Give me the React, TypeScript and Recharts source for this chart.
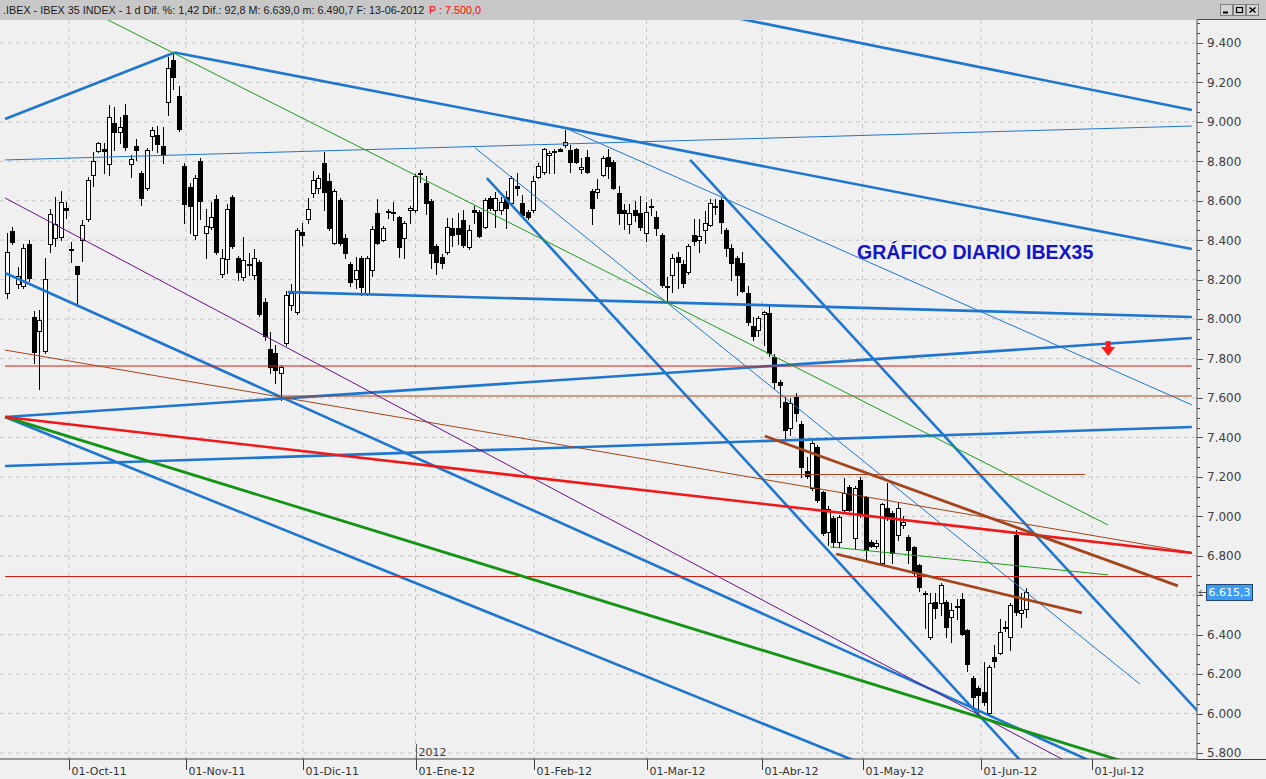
import React from 'react';
import {
    ComposedChart, Bar, XAxis, YAxis, CartesianGrid, ReferenceLine, ReferenceDot
} from 'recharts';

// daily candles, IBEX 35, mid-Sep 2011 -> 13 Jun 2012 (index = trading day)
const opens = [
    8132, 8447, 8178, 8168, 8381, 8011, 7940, 7838, 8381, 8411,
    8416, 8563, 8355, 8269, 8401, 8508, 8731, 8852, 8862, 8786,
    8994, 8949, 9035, 8786, 8878, 8741, 8665, 8928, 8934, 8878,
    9101, 9314, 9131, 8776, 8670, 8426, 8802, 8437, 8467, 8609,
    8229, 8305, 8619, 8310, 8213, 8279, 8224, 8289, 8087, 7848,
    7828, 7727, 7879, 8072, 8036, 8442, 8508, 8639, 8665, 8792,
    8700, 8386, 8604, 8411, 8279, 8203, 8310, 8132, 8249, 8538,
    8401, 8548, 8543, 8518, 8411, 8553, 8553, 8741, 8690, 8599,
    8371, 8315, 8340, 8462, 8462, 8503, 8366, 8553, 8543, 8467,
    8614, 8553, 8553, 8619, 8589, 8675, 8589, 8543, 8553, 8721,
    8746, 8832, 8852, 8862, 8883, 8857, 8862, 8761, 8822, 8650,
    8645, 8731, 8822, 8797, 8640, 8553, 8482, 8553, 8538, 8436,
    8574, 8518, 8427, 8168, 8224, 8315, 8279, 8239, 8427, 8401,
    8452, 8477, 8574, 8604, 8452, 8361, 8310, 8284, 8132, 7965,
    7945, 8026, 8031, 7808, 7681, 7580, 7448, 7605, 7468, 7230,
    7144, 7352, 7123, 6921, 6992, 6870, 7032, 7149, 6890, 7184,
    7098, 6870, 6850, 6763, 7042, 7017, 6905, 6956, 6895, 6845,
    6753, 6612, 6388, 6566, 6561, 6566, 6490, 6545, 6581, 6424,
    6180, 6130, 6109, 6003, 6287, 6307, 6440, 6388, 6905, 6510,
    6530,
];
const highs = [
    8437, 8465, 8264, 8381, 8400, 8041, 8046, 8310, 8558, 8620,
    8650, 8594, 8391, 8269, 8502, 8720, 8847, 8898, 8893, 9086,
    9076, 9025, 9091, 8832, 8913, 8750, 8870, 8974, 8979, 8974,
    9329, 9349, 9182, 8790, 8690, 8730, 8815, 8558, 8594, 8629,
    8355, 8584, 8630, 8320, 8416, 8335, 8355, 8300, 8107, 7934,
    7868, 7767, 8142, 8178, 8462, 8487, 8614, 8750, 8731, 8847,
    8741, 8660, 8615, 8431, 8290, 8315, 8320, 8320, 8470, 8609,
    8470, 8558, 8594, 8525, 8495, 8574, 8735, 8756, 8726, 8610,
    8380, 8330, 8513, 8513, 8538, 8553, 8477, 8574, 8553, 8612,
    8622, 8645, 8620, 8650, 8725, 8741, 8629, 8553, 8726, 8790,
    8870, 8850, 8862, 8867, 8959, 8883, 8870, 8817, 8857, 8660,
    8711, 8825, 8862, 8805, 8675, 8584, 8584, 8599, 8624, 8594,
    8609, 8548, 8435, 8214, 8330, 8340, 8300, 8380, 8508, 8508,
    8548, 8609, 8609, 8614, 8460, 8380, 8318, 8340, 8168, 8011,
    8016, 8040, 8067, 7823, 7691, 7605, 7600, 7626, 7484, 7300,
    7380, 7362, 7130, 7052, 7000, 7007, 7194, 7158, 7152, 7199,
    7105, 6880, 6880, 7070, 7170, 7025, 7072, 7000, 6905, 6852,
    6760, 6622, 6612, 6612, 6660, 6576, 6561, 6581, 6612, 6430,
    6188, 6140, 6261, 6245, 6348, 6480, 6470, 6560, 6930, 6611,
    6639,
];
const lows = [
    8107, 8380, 8158, 8158, 8193, 7777, 7646, 7828, 8340, 8371,
    8401, 8513, 8289, 8067, 8294, 8495, 8675, 8847, 8741, 8731,
    8857, 8893, 8857, 8721, 8807, 8579, 8655, 8857, 8847, 8792,
    9035, 9167, 8955, 8487, 8437, 8406, 8508, 8310, 8457, 8330,
    8213, 8234, 8361, 8198, 8198, 8224, 8203, 8015, 7894, 7727,
    7676, 7590, 7868, 8046, 8026, 8376, 8487, 8620, 8640, 8553,
    8452, 8381, 8375, 8310, 8168, 8158, 8122, 8120, 8219, 8380,
    8395, 8513, 8502, 8315, 8310, 8487, 8545, 8695, 8533, 8259,
    8229, 8260, 8330, 8371, 8381, 8366, 8355, 8487, 8416, 8460,
    8555, 8467, 8533, 8462, 8580, 8629, 8523, 8508, 8545, 8715,
    8738, 8741, 8741, 8852, 8875, 8746, 8790, 8741, 8741, 8482,
    8614, 8725, 8716, 8660, 8482, 8457, 8437, 8497, 8452, 8396,
    8528, 8426, 8165, 8087, 8138, 8160, 8163, 8230, 8376, 8340,
    8386, 8470, 8533, 8436, 8320, 8198, 8122, 8135, 7970, 7894,
    7914, 7870, 7813, 7650, 7554, 7397, 7412, 7483, 7199, 7194,
    7135, 7075, 6905, 6855, 6845, 6845, 7023, 7027, 6840, 6997,
    6779, 6845, 6840, 6753, 6980, 6764, 6880, 6940, 6764, 6705,
    6622, 6434, 6380, 6485, 6500, 6388, 6363, 6480, 6398, 6216,
    6033, 6010, 6043, 5990, 6236, 6300, 6420, 6322, 6500, 6439,
    6491,
];
const closes = [
    8340, 8391, 8219, 8361, 8208, 7833, 7996, 8203, 8533, 8482,
    8594, 8553, 8350, 8229, 8477, 8705, 8802, 8893, 8852, 9025,
    8949, 8974, 8873, 8812, 8857, 8614, 8857, 8959, 8888, 8832,
    9273, 9228, 8964, 8584, 8574, 8716, 8599, 8472, 8518, 8340,
    8310, 8558, 8371, 8239, 8300, 8274, 8310, 8026, 7914, 7757,
    7742, 7757, 8122, 8132, 8452, 8427, 8558, 8705, 8716, 8645,
    8462, 8650, 8386, 8335, 8188, 8249, 8163, 8310, 8457, 8386,
    8462, 8543, 8538, 8366, 8488, 8564, 8726, 8736, 8589, 8335,
    8290, 8284, 8467, 8427, 8432, 8376, 8452, 8543, 8421, 8604,
    8563, 8614, 8594, 8563, 8716, 8665, 8528, 8518, 8700, 8776,
    8862, 8842, 8847, 8852, 8898, 8797, 8797, 8771, 8746, 8563,
    8660, 8817, 8776, 8665, 8538, 8538, 8538, 8528, 8467, 8543,
    8569, 8462, 8173, 8163, 8310, 8290, 8183, 8371, 8396, 8422,
    8488, 8589, 8569, 8492, 8361, 8285, 8224, 8142, 7985, 7914,
    8006, 8036, 7828, 7681, 7666, 7438, 7575, 7524, 7250, 7204,
    7372, 7083, 6915, 7037, 6870, 6997, 7118, 7032, 7144, 7007,
    6829, 6852, 6865, 7062, 6997, 6814, 7042, 6972, 6829, 6713,
    6642, 6607, 6561, 6536, 6652, 6439, 6525, 6540, 6404, 6251,
    6084, 6094, 6059, 6236, 6266, 6414, 6436, 6550, 6515, 6522.5,
    6615.3,
];

// month ticks (trading-day index where the month starts)
const monthTicks = [11.31, 33.12, 54.93, 75.9, 97.99, 118.96, 140.48, 159.22, 181.31, 201.99];
const monthLabels = ['01-Oct-11', '01-Nov-11', '01-Dic-11', '01-Ene-12', '01-Feb-12',
    '01-Mar-12', '01-Abr-12', '01-May-12', '01-Jun-12', '01-Jul-12'];

const majorTicks = [5800, 6000, 6200, 6400, 6600, 6800, 7000, 7200, 7400, 7600,
    7800, 8000, 8200, 8400, 8600, 8800, 9000, 9200, 9400];
const priceTicks = majorTicks.flatMap((v) => (v === 9400 ? [v, v + 50, v + 100] : [v, v + 50, v + 100, v + 150]));

const lastClose = 6615.3;

// hand drawn trend lines: [index, price] -> [index, price]
const trendLines: { kind: string; from: [number, number]; to: [number, number] }[] = [
    { kind: 'blue', from: [-0.6, 9015], to: [31, 9352] },
    { kind: 'blue', from: [31, 9352], to: [220.6, 8355] },
    { kind: 'blue', from: [130, 9558], to: [220.6, 9060] },
    { kind: 'blueThin', from: [-0.6, 8807], to: [220.6, 8979] },
    { kind: 'blue', from: [52.1, 8137], to: [220.6, 8011] },
    { kind: 'blue', from: [-0.6, 7504], to: [220.6, 7904] },
    { kind: 'blue', from: [-0.6, 7255], to: [220.6, 7453] },
    { kind: 'blue', from: [-0.6, 8234], to: [205, 5719] },
    { kind: 'blue', from: [-0.6, 7504], to: [160, 5736] },
    { kind: 'blue', from: [89.2, 8715], to: [190, 5722] },
    { kind: 'blue', from: [127.1, 8807], to: [222, 6003] },
    { kind: 'blueThin', from: [87, 8868], to: [210.9, 6150] },
    { kind: 'blueThin', from: [103.8, 8969], to: [220.6, 7565] },
    { kind: 'redThin', from: [-0.6, 7762], to: [220.6, 7762] },
    { kind: 'redThin', from: [-0.6, 6695], to: [220.6, 6695] },
    { kind: 'brownThin', from: [51.1, 7610], to: [220.6, 7610] },
    { kind: 'brownThin', from: [141, 7212], to: [200.7, 7212] },
    { kind: 'brownThin', from: [-0.6, 7843], to: [220.6, 6817] },
    { kind: 'purple', from: [-0.6, 8614], to: [198, 5746] },
    { kind: 'greenThin', from: [15, 9566], to: [205, 6956] },
    { kind: 'greenThin', from: [153.2, 6845], to: [205, 6703] },
    { kind: 'green', from: [-0.6, 7504], to: [208, 5756] },
    { kind: 'red', from: [-0.6, 7504], to: [220.6, 6814] },
    { kind: 'brown', from: [141, 7407], to: [218, 6647] },
    { kind: 'brown', from: [154.3, 6809], to: [200.1, 6510] },
];

const lineStyles: Record<string, { stroke: string; width: number }> = {
    blue: { stroke: '#1f76cf', width: 2.6 },
    blueThin: { stroke: '#1f76cf', width: 1 },
    red: { stroke: '#f01818', width: 2.6 },
    redThin: { stroke: '#d81a10', width: 1.1 },
    brown: { stroke: '#a3441c', width: 2.8 },
    brownThin: { stroke: '#a3441c', width: 1 },
    green: { stroke: '#149414', width: 2.8 },
    greenThin: { stroke: '#1c9c1c', width: 1 },
    purple: { stroke: '#661185', width: 1 },
};

const rows = opens.map((o, i) => ({ k: i, open: o, high: highs[i], low: lows[i], close: closes[i] }));

const fmtPrice = (v: number) => `${Math.floor(v / 1000)}.${String(v % 1000).padStart(3, '0')}`;

function Candle(props: any) {
    const { x, y, width, height, payload } = props;
    if (x == null || y == null || !payload) return null;
    const { open, close, high, low } = payload;
    const top = Math.min(y, y + height);
    const bot = Math.max(y, y + height);
    const span = high - low;
    const py = (v: number) => (span > 0 ? top + ((high - v) / span) * (bot - top) : top);
    const c = Math.round(x + width / 2);
    const up = close >= open;
    const bTop = Math.round(py(Math.max(open, close))) + 0.5;
    const bBot = Math.round(py(Math.min(open, close))) + 0.5;
    return (
        <g>
            <line x1={c - 0.5} x2={c - 0.5} y1={Math.round(top)} y2={Math.round(bot) + 1} stroke="#000" strokeWidth={1} />
            {bBot - bTop < 1 ? (
                <line x1={c - 3} x2={c + 2} y1={bTop} y2={bTop} stroke="#000" strokeWidth={1} />
            ) : (
                <rect x={c - 2.5} y={bTop} width={4} height={bBot - bTop} fill={up ? '#ffffff' : '#000000'} stroke="#000" strokeWidth={1} />
            )}
        </g>
    );
}

function PriceTick(props: any) {
    const { x, y, payload } = props;
    const v = payload.value;
    const major = v % 200 === 0;
    // the last-price flag covers the 6.600 label
    const hidden = Math.abs(v - lastClose) < 60;
    const yy = Math.round(y) + 0.5;
    return (
        <g>
            <line x1={x} x2={x + (major ? 6 : 3)} y1={yy} y2={yy} stroke="#505050" strokeWidth={1} />
            {major && !hidden && (
                <text x={x + 10} y={y} dy="0.36em" fontSize={12} fontFamily="DejaVu Sans" fill="#404040">
                    {fmtPrice(v)}
                </text>
            )}
        </g>
    );
}

function MonthTick(props: any) {
    const { x, y, payload } = props;
    const idx = monthTicks.indexOf(payload.value);
    const xx = Math.round(x) + 0.5;
    return (
        <g>
            <line x1={xx} x2={xx} y1={y} y2={y + 11} stroke="#404040" strokeWidth={1} />
            {idx === 3 && (
                <>
                    <line x1={xx} x2={xx} y1={y - 15} y2={y} stroke="#606060" strokeWidth={1} />
                    <text x={xx + 2} y={y - 3} fontSize={11} fontFamily="DejaVu Sans" fill="#404040">2012</text>
                </>
            )}
            <text x={xx + 2} y={y + 16} fontSize={11} fontFamily="DejaVu Sans" fill="#333333">
                {monthLabels[idx] ?? ''}
            </text>
        </g>
    );
}

function Header() {
    return (
        <svg width={1266} height={20} style={{ position: 'absolute', left: 0, top: 0 }}>
            <rect x={0} y={0} width={1266} height={20} fill="#c8c8c8" />
            <text x={3} y={14} fontSize={10.8} fontFamily="Liberation Sans, Arial" fill="#1a1a1a">
                .IBEX - IBEX 35 INDEX - 1 d Dif. %: 1,42 Dif.: 92,8 M: 6.639,0 m: 6.490,7 F: 13-06-2012
            </text>
            <text x={429} y={14} fontSize={10.8} fontFamily="Liberation Sans, Arial" fill="#ff0000">
                P : 7.500,0
            </text>
            {[1220, 1233, 1246].map((bx, i) => (
                <g key={bx}>
                    <rect x={bx + 0.5} y={4.5} width={12} height={11} fill="#d4d4d4" stroke="#808080" />
                    {i === 0 && <line x1={bx + 3} x2={bx + 8} y1={12.5} y2={12.5} stroke="#000" strokeWidth={2} />}
                    {i === 1 && <rect x={bx + 3.5} y={7.5} width={6} height={5} fill="none" stroke="#000" strokeWidth={1.2} />}
                    {i === 2 && (
                        <path d={`M${bx + 3.5},7.5 L${bx + 9.5},12.5 M${bx + 9.5},7.5 L${bx + 3.5},12.5`} stroke="#000" strokeWidth={1.5} />
                    )}
                </g>
            ))}
        </svg>
    );
}

export default function App() {
    return (
        <div style={{ position: 'absolute', left: 0, top: 0, width: 1266, height: 779, background: '#f0f0f0', overflow: 'hidden' }}>
            <Header />
            <div style={{ position: 'absolute', left: 0, top: 20 }}>
                <ComposedChart width={1266} height={759} data={rows} margin={{ top: 0, right: 0, bottom: 0, left: 0 }}>
                    <CartesianGrid
                        stroke="#c4c4c4"
                        strokeDasharray="4 4"
                        horizontalValues={majorTicks}
                        verticalValues={monthTicks}
                    />
                    <XAxis
                        type="number"
                        dataKey="k"
                        domain={[-1.547, 221.56]}
                        allowDataOverflow
                        ticks={monthTicks}
                        interval={0}
                        height={20}
                        tickSize={0}
                        tickMargin={0}
                        tickLine={false}
                        axisLine={{ stroke: '#404040' }}
                        tick={<MonthTick />}
                    />
                    <YAxis
                        orientation="right"
                        domain={[5769.5, 9516.6]}
                        allowDataOverflow
                        ticks={priceTicks}
                        interval={0}
                        width={69}
                        tickSize={0}
                        tickMargin={0}
                        tickLine={false}
                        axisLine={{ stroke: '#505050' }}
                        tick={<PriceTick />}
                    />
                    <Bar dataKey={(d: any) => [d.low, d.high]} barSize={5} shape={Candle} isAnimationActive={false} />
                    {trendLines.map((t, i) => (
                        <ReferenceLine
                            key={i}
                            segment={[{ x: t.from[0], y: t.from[1] }, { x: t.to[0], y: t.to[1] }]}
                            stroke={lineStyles[t.kind].stroke}
                            strokeWidth={lineStyles[t.kind].width}
                            ifOverflow="hidden"
                        />
                    ))}
                    <ReferenceDot
                        x={158.2}
                        y={8305}
                        r={0}
                        ifOverflow="visible"
                        shape={(p: any) => (
                            <text x={p.cx} y={p.cy} fontSize={19.5} fontWeight="bold" fontFamily="Liberation Sans, Arial" fill="#1414c8">
                                GRÁFICO DIARIO IBEX35
                            </text>
                        )}
                    />
                    <ReferenceDot
                        x={205}
                        y={7853}
                        r={0}
                        ifOverflow="visible"
                        shape={(p: any) => (
                            <g>
                                <rect x={p.cx - 2.5} y={p.cy - 7} width={5} height={7} fill="#ff1a1a" />
                                <path d={`M${p.cx - 7},${p.cy - 1} L${p.cx + 7},${p.cy - 1} L${p.cx},${p.cy + 8} Z`} fill="#ff1a1a" />
                            </g>
                        )}
                    />
                    <ReferenceDot
                        x={221.56}
                        y={lastClose}
                        r={0}
                        ifOverflow="visible"
                        shape={(p: any) => (
                            <g>
                                <path d={`M${p.cx + 2},${Math.round(p.cy) + 0.5} L${p.cx + 9},${Math.round(p.cy) + 0.5} M${p.cx + 2},${Math.round(p.cy) + 0.5} L${p.cx + 5},${Math.round(p.cy) - 2.5} M${p.cx + 2},${Math.round(p.cy) + 0.5} L${p.cx + 5},${Math.round(p.cy) + 3.5}`}
                                    stroke="#505050" strokeWidth={1} fill="none" />
                                <rect x={p.cx + 9.5} y={Math.round(p.cy) - 7.5} width={46} height={16} fill="#3d9df2" stroke="#23466e" />
                                <text x={p.cx + 11.5} y={p.cy} dy="0.36em" fontSize={11} fontFamily="DejaVu Sans" fill="#ffffff">6.615,3</text>
                            </g>
                        )}
                    />
                </ComposedChart>
            </div>
            <svg width={1266} height={779} style={{ position: 'absolute', left: 0, top: 0, pointerEvents: 'none' }}>
                <line x1={1197} x2={1266} y1={759.5} y2={759.5} stroke="#404040" strokeWidth={1} />
                <line x1={1197} x2={1266} y1={19.5} y2={19.5} stroke="#505050" strokeWidth={1} />
            </svg>
        </div>
    );
}
